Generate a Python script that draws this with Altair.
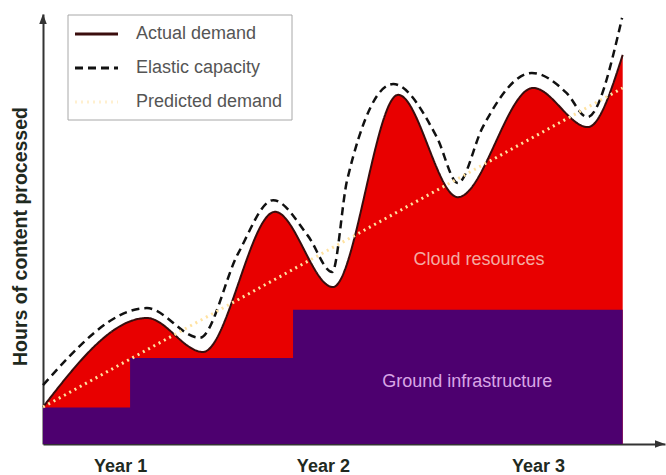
import altair as alt
import pandas as pd

# ---- data (x: time along the axis 0-100, y: hours along the axis 0-100) ----
actual_t = [0, 16.7, 25.7, 37.3, 46.6, 57.1, 66.7, 78.8, 87.6, 93.2]
actual_v = [8.6, 29.3, 21.4, 54.0, 36.5, 81.2, 57.4, 82.8, 73.7, 90.5]

elastic_t = [0, 16.7, 25.2, 31.4, 37.0, 42.6, 46.5, 48.9, 56.3, 63.3, 66.7, 70.7, 78.6, 84.2, 87.5, 93.1]
elastic_v = [13.7, 31.6, 24.7, 44.4, 56.7, 48.4, 40.0, 61.4, 83.7, 71.4, 60.7, 73.7, 86.3, 81.6, 76.0, 99.1]

predicted_t = [0, 93.2]
predicted_v = [8.6, 82.8]

ground_t = [0, 14.0, 40.2, 93.2]
ground_v = [8.5, 20.0, 31.2, 31.2]

series_names = ["Actual demand", "Elastic capacity", "Predicted demand"]

year_labels = ["Year 1", "Year 2", "Year 3"]
year_t = [12.4, 45.0, 79.6]

region_labels = ["Cloud resources", "Ground infrastructure"]
region_t = [70.1, 68.2]
region_v = [42.8, 14.4]

axis_end_t = [100]
axis_end_v = [100]

# ---- styles ----
series_colors = ["#3a0d0d", "#111111", "#ffe2a0"]
series_dashes = [[1, 0], [8, 5], [2, 4]]
series_widths = [2, 3, 3]
series_opacity = [1, 1, 0.5]
SANS = "Liberation Sans, Arial, sans-serif"
AXIS_COLOR = "#333333"

# ---- tables ----
actual_df = pd.DataFrame({"t": actual_t, "v": actual_v})
ground_df = pd.DataFrame({"t": ground_t, "v": ground_v})
lines_df = pd.concat([
    pd.DataFrame({"t": actual_t, "v": actual_v, "series": series_names[0]}),
    pd.DataFrame({"t": elastic_t, "v": elastic_v, "series": series_names[1]}),
    pd.DataFrame({"t": predicted_t, "v": predicted_v, "series": series_names[2]}),
], ignore_index=True)
lines_df["order"] = range(len(lines_df))
region_df = pd.DataFrame({"t": region_t, "v": region_v, "label": region_labels,
                          "kind": ["cloud", "ground"]})
xarrow_df = pd.DataFrame({"t": axis_end_t, "v": [0]})
yarrow_df = pd.DataFrame({"t": [0], "v": axis_end_v})
one_row = pd.DataFrame({"k": [0]})

label_expr = " : ".join(
    f"datum.value == {v} ? '{l}'" for v, l in zip(year_t, year_labels)
) + " : ''"

x_enc = alt.X(
    "t:Q",
    scale=alt.Scale(domain=[0, 100], nice=False, zero=False),
    axis=alt.Axis(
        values=year_t, labelExpr=label_expr, title=None, ticks=False, grid=False,
        domainColor=AXIS_COLOR, domainWidth=2, labelFont=SANS, labelFontSize=18,
        labelFontWeight="bold", labelColor="#1f2a1f", labelPadding=22,
        labelBaseline="middle", labelFlush=False, labelOverlap=False,
    ),
)
y_enc = alt.Y(
    "v:Q",
    scale=alt.Scale(domain=[0, 100], nice=False),
    axis=alt.Axis(
        title="Hours of content processed", labels=False, ticks=False, grid=False,
        domainColor=AXIS_COLOR, domainWidth=2, titleFont=SANS, titleFontSize=19.5,
        titleFontWeight="bold", titleColor="#1f2a1f", titleX=-23, titleY=222,
        titleAngle=270, titleAlign="center", titleBaseline="middle",
    ),
)

cloud = alt.Chart(actual_df).mark_area(
    interpolate="monotone", color="#e80000", opacity=1
).encode(x=x_enc, y=y_enc)

ground = alt.Chart(ground_df).mark_area(
    interpolate="step-after", color="#4d006f", opacity=1
).encode(x=x_enc, y=y_enc)

lines = alt.Chart(lines_df).mark_line(interpolate="monotone").encode(
    x=x_enc,
    y=y_enc,
    order="order:Q",
    color=alt.Color("series:N", scale=alt.Scale(domain=series_names, range=series_colors),
                    legend=None),
    strokeDash=alt.StrokeDash("series:N", scale=alt.Scale(domain=series_names,
                              range=series_dashes), legend=None),
    strokeWidth=alt.StrokeWidth("series:N", scale=alt.Scale(domain=series_names,
                                range=series_widths), legend=None),
    opacity=alt.Opacity("series:N", scale=alt.Scale(domain=series_names,
                        range=series_opacity), legend=None),
)

regions = alt.Chart(region_df).mark_text(
    font=SANS, fontSize=18, align="center", baseline="middle"
).encode(
    x=x_enc, y=y_enc, text="label:N",
    color=alt.Color("kind:N", scale=alt.Scale(domain=["cloud", "ground"],
                    range=["#f4aaa2", "#d9a6e6"]), legend=None),
)

xarrow = alt.Chart(xarrow_df).mark_point(
    shape="M0,0L-2,-0.75L-2,0.75Z", filled=True, size=100, color=AXIS_COLOR, opacity=1
).encode(x=x_enc, y=y_enc)

yarrow = alt.Chart(yarrow_df).mark_point(
    shape="M0,0L-0.75,2L0.75,2Z", filled=True, size=100, color=AXIS_COLOR, opacity=1
).encode(x=x_enc, y=y_enc)

# ---- legend (drawn as a box with a sample line and label per series) ----
legend_layers = [
    alt.Chart(one_row).mark_rect(fill="white", stroke="#a8a8a8", strokeWidth=1).encode(
        x=alt.value(25), x2=alt.value(249), y=alt.value(1), y2=alt.value(106)
    )
]
for i, name in enumerate(series_names):
    row_y = 20 + 34 * i
    legend_layers.append(
        alt.Chart(one_row).mark_rule(
            color=series_colors[i], strokeDash=series_dashes[i], strokeWidth=3,
            opacity=series_opacity[i],
        ).encode(x=alt.value(32), x2=alt.value(75), y=alt.value(row_y))
    )
    legend_layers.append(
        alt.Chart(one_row).mark_text(
            font=SANS, fontSize=18, color="#555555", align="left", baseline="middle",
            text=name,
        ).encode(x=alt.value(93), y=alt.value(row_y))
    )

chart = alt.layer(cloud, ground, lines, regions, xarrow, yarrow, *legend_layers).resolve_scale(
    color="independent"
).properties(
    width=622, height=430,
    padding={"left": 43, "top": 14, "right": 1, "bottom": 31},
    autosize=alt.AutoSizeParams(type="none"),
    background="white",
).configure_view(stroke=None)

chart.save("out.html", embed_options={"renderer": "svg", "actions": False})
